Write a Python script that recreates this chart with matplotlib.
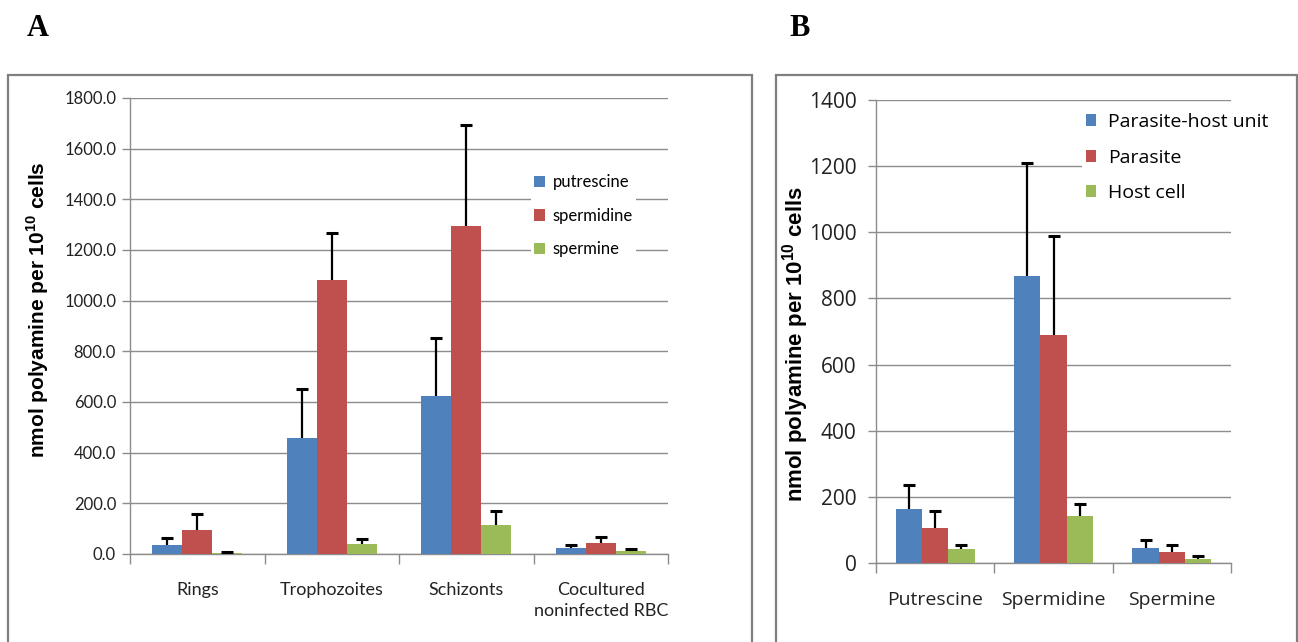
import matplotlib
matplotlib.use('Agg')
import matplotlib.pyplot as plt
import numpy as np
from matplotlib.patches import Rectangle

plt.rcParams['mathtext.fontset'] = 'custom'
plt.rcParams['mathtext.bf'] = 'Liberation Sans:bold'
plt.rcParams['mathtext.rm'] = 'Liberation Sans:bold'

# panel A: polyamines by parasite stage
stages = ['Rings', 'Trophozoites', 'Schizonts', 'Cocultured\nnoninfected RBC']
a_names = ['putrescine', 'spermidine', 'spermine']
a_put = [35, 458, 625, 24]
a_spd = [95, 1080, 1295, 44]
a_spm = [5, 40, 115, 12]
a_put_err = [28, 194, 227, 13]
a_spd_err = [63, 187, 400, 24]
a_spm_err = [4, 19, 55, 9]

# panel B: parasite-host unit vs parasite vs host cell
amines = ['Putrescine', 'Spermidine', 'Spermine']
b_names = ['Parasite-host unit', 'Parasite', 'Host cell']
b_unit = [164, 868, 46]
b_par = [105, 690, 34]
b_host = [43, 143, 13]
b_unit_err = [71, 343, 23]
b_par_err = [53, 300, 20]
b_host_err = [10, 34, 7]

COLORS = ['#4F81BD', '#C0504D', '#9BBB59']
GRID = '#8C8C8C'
W, H = 1298, 642

fig = plt.figure(figsize=(W / 100, H / 100), dpi=100)

# outer frames round each panel
for x0, x1 in [(8, 752), (776, 1297)]:
    fig.add_artist(Rectangle((x0 / W, -0.05), (x1 - x0) / W, 1.05 - 75 / H,
                             transform=fig.transFigure, fill=False,
                             edgecolor='#7F7F7F', linewidth=1.6))
fig.text(38 / W, 1 - 28 / H, 'A', fontsize=22, fontweight='bold',
         family='Liberation Serif', ha='center', va='center')
fig.text(800 / W, 1 - 28 / H, 'B', fontsize=22, fontweight='bold',
         family='Liberation Serif', ha='center', va='center')

ylab = r'nmol polyamine per 10$^{\mathbf{10}}$ cells'


def draw_panel(ax, cats, series, errs, names, ymax, ystep, fmt, font, tsize, xsize):
    n = len(cats)
    x = np.arange(n)
    bw = 1 / 4.5
    for i, (vals, err) in enumerate(zip(series, errs)):
        pos = x + (i - 1) * bw
        vals = np.asarray(vals)
        top = vals + np.asarray(err)
        ax.bar(pos, vals, bw, color=COLORS[i], label=names[i], zorder=3)
        # upper-only error bars with a cap
        ax.vlines(pos, vals, top, color='black', linewidth=1.6, zorder=4)
        ax.plot(pos, top, ls='none', marker='_', ms=9, mew=2.2, color='black', zorder=4)
    ax.set_xlim(-0.5, n - 0.5)
    ax.set_ylim(0, ymax)
    ticks = np.arange(0, ymax + 1, ystep)
    ax.set_yticks(ticks)
    ax.set_yticklabels([fmt.format(t) for t in ticks], family=font, fontsize=tsize, color='#222222')
    ax.set_xticks(x)
    ax.set_xticklabels(cats, family=font, fontsize=xsize, color='#222222', linespacing=1.4)
    ax.set_xticks(np.arange(n + 1) - 0.5, minor=True)
    ax.tick_params(axis='x', which='major', length=0, pad=20)
    ax.tick_params(axis='x', which='minor', length=7, color=GRID, width=1)
    ax.tick_params(axis='y', length=6, color=GRID, width=1, pad=4)
    ax.yaxis.grid(True, color=GRID, linewidth=1, zorder=0)
    ax.set_axisbelow(True)
    for s in ['top', 'right']:
        ax.spines[s].set_visible(False)
    for s in ['left', 'bottom']:
        ax.spines[s].set_color(GRID)
        ax.spines[s].set_linewidth(1)


axA = fig.add_axes([130 / W, 1 - 554 / H, 538 / W, 456 / H])
draw_panel(axA, stages, [a_put, a_spd, a_spm], [a_put_err, a_spd_err, a_spm_err],
           a_names, 1800, 200, '{:.1f}', 'Lato', 12, 13)
axA.set_ylabel(ylab, family='Liberation Sans', fontweight='bold', fontsize=15)
axA.yaxis.set_label_coords(-0.147, 0.535)
legA = axA.legend(loc='upper left', bbox_to_anchor=(0.745, 0.84), frameon=True,
                  prop={'family': 'Lato', 'size': 12}, labelspacing=1.05,
                  handlelength=0.65, handleheight=0.65, handletextpad=0.45,
                  borderpad=0.2, borderaxespad=0)
legA.get_frame().set_edgecolor('none')
legA.get_frame().set_facecolor('white')
legA.get_frame().set_alpha(1)

axB = fig.add_axes([876 / W, 1 - 563 / H, 355 / W, 463 / H])
draw_panel(axB, amines, [b_unit, b_par, b_host], [b_unit_err, b_par_err, b_host_err],
           b_names, 1400, 200, '{:.0f}', 'Open Sans', 15, 14)
axB.tick_params(axis='x', which='major', pad=20)
axB.tick_params(axis='y', pad=8)
axB.set_ylabel(ylab, family='Liberation Sans', fontweight='bold', fontsize=16)
axB.yaxis.set_label_coords(-0.182, 0.473)
legB = axB.legend(loc='upper left', bbox_to_anchor=(0.58, 0.98), frameon=True,
                  prop={'family': 'Open Sans', 'size': 14}, labelspacing=0.9,
                  handlelength=0.55, handleheight=0.55, handletextpad=0.6,
                  borderpad=0.2, borderaxespad=0)
legB.get_frame().set_edgecolor('none')
legB.get_frame().set_facecolor('white')
legB.get_frame().set_alpha(1)

fig.savefig('out.png', dpi=100)
